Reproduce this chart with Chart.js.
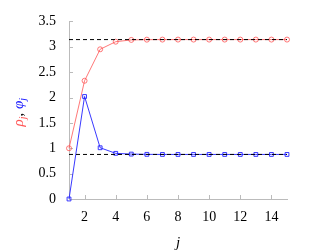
<!DOCTYPE html>
<html>
<head>
<meta charset="utf-8">
<script src="https://cdn.jsdelivr.net/npm/chart.js@4"></script>
<style>
  html, body { margin: 0; padding: 0; background: #fff; }
  #wrap { width: 315px; height: 252px; }
</style>
</head>
<body>
<div id="wrap"><canvas id="chart" width="315" height="252"></canvas></div>
<script>
// values
const jValues = [1, 2, 3, 4, 5, 6, 7, 8, 9, 10, 11, 12, 13, 14, 15];
const rhoValues = [1.0, 2.33, 2.95, 3.10, 3.135, 3.14, 3.1416, 3.1416, 3.1416, 3.1416, 3.1416, 3.1416, 3.1416, 3.1416, 3.1416];
const phiValues = [0.0, 2.02, 1.01, 0.90, 0.885, 0.88, 0.878, 0.878, 0.878, 0.878, 0.878, 0.878, 0.878, 0.878, 0.878];
const rhoLimit = 3.1416;
const phiLimit = 0.878;
const xTicks = [2, 4, 6, 8, 10, 12, 14];
const yTicks = [0, 0.5, 1, 1.5, 2, 2.5, 3, 3.5];

const FONT = "'Liberation Serif', 'DejaVu Serif', serif";
const RED = '#ff5555';
const BLUE = '#2222ff';

const pts = (vals) => jValues.map((j, i) => ({ x: j, y: vals[i] }));
const hline = (v) => [{ x: jValues[0], y: v }, { x: jValues[jValues.length - 1], y: v }];

// inward tick marks + two-colour y title
const decorations = {
    id: 'decorations',
    beforeDatasetsDraw(chart) {
        const { ctx, chartArea, scales } = chart;
        ctx.save();
        ctx.strokeStyle = '#bbbbbb';
        ctx.lineWidth = 1;
        ctx.beginPath();
        yTicks.forEach(v => {
            const y = Math.round(scales.y.getPixelForValue(v)) + 0.5;
            ctx.moveTo(chartArea.left, y);
            ctx.lineTo(chartArea.left + 4, y);
        });
        xTicks.forEach(v => {
            const x = Math.round(scales.x.getPixelForValue(v)) + 0.5;
            ctx.moveTo(x, chartArea.bottom);
            ctx.lineTo(x, chartArea.bottom - 4);
        });
        ctx.stroke();
        ctx.restore();
    },
    afterDraw(chart) {
        const { ctx, chartArea } = chart;
        ctx.save();
        // y axis title: rho_j (red), comma, phi_j (blue)
        ctx.translate(18, (chartArea.top + chartArea.bottom) / 2 + 2);
        ctx.rotate(-Math.PI / 2);
        ctx.textBaseline = 'alphabetic';
        const parts = [
            { t: 'ρ', c: RED, f: 'italic 15px ' + FONT, dy: 0 },
            { t: 'j', c: RED, f: 'italic 10px ' + FONT, dy: 3 },
            { t: ', ', c: '#000', f: '15px ' + FONT, dy: 0 },
            { t: 'φ', c: BLUE, f: 'italic 15px ' + FONT, dy: 0 },
            { t: 'j', c: BLUE, f: 'italic 10px ' + FONT, dy: 3 }
        ];
        let total = 0;
        parts.forEach(p => { ctx.font = p.f; total += ctx.measureText(p.t).width; });
        let x = -total / 2;
        parts.forEach(p => {
            ctx.font = p.f;
            ctx.fillStyle = p.c;
            ctx.fillText(p.t, x, 5 + p.dy);
            x += ctx.measureText(p.t).width;
        });
        ctx.restore();
    }
};

new Chart(document.getElementById('chart').getContext('2d'), {
    type: 'scatter',
    data: {
        datasets: [
            {
                label: 'rho limit',
                data: hline(rhoLimit),
                showLine: true,
                borderColor: '#000',
                borderWidth: 1,
                borderDash: [4, 3],
                pointRadius: 0,
                order: 0
            },
            {
                label: 'phi limit',
                data: hline(phiLimit),
                showLine: true,
                borderColor: '#000',
                borderWidth: 1,
                borderDash: [4, 3],
                pointRadius: 0,
                order: 0
            },
            {
                label: 'rho',
                data: pts(rhoValues),
                showLine: true,
                clip: false,
                borderColor: RED,
                borderWidth: 0.8,
                pointStyle: 'circle',
                pointRadius: 2.5,
                pointBorderWidth: 0.8,
                pointBackgroundColor: 'rgba(0,0,0,0)',
                pointBorderColor: RED,
                order: 1
            },
            {
                label: 'phi',
                data: pts(phiValues),
                showLine: true,
                clip: false,
                borderColor: BLUE,
                borderWidth: 0.9,
                pointStyle: 'rect',
                pointRadius: 2.7,
                pointBorderWidth: 0.9,
                pointBackgroundColor: 'rgba(0,0,0,0)',
                pointBorderColor: BLUE,
                order: 1
            }
        ]
    },
    options: {
        responsive: false,
        animation: false,
        layout: { padding: { top: 18, right: 28, left: 0, bottom: 0 } },
        plugins: {
            legend: { display: false },
            tooltip: { enabled: false }
        },
        scales: {
            x: {
                type: 'linear',
                min: 1,
                max: 15,
                afterBuildTicks: (scale) => { scale.ticks = xTicks.map(v => ({ value: v })); },
                afterFit: (scale) => { scale.height = 53; },
                grid: { display: false, drawTicks: false },
                border: { display: true, color: '#bbbbbb', width: 1 },
                ticks: {
                    color: '#000',
                    font: { family: FONT, size: 14 },
                    padding: 10,
                    maxRotation: 0,
                    autoSkip: false
                },
                title: {
                    display: true,
                    text: 'j',
                    color: '#000',
                    font: { family: FONT, size: 15, style: 'italic' },
                    padding: { top: 2, bottom: 0 }
                }
            },
            y: {
                type: 'linear',
                min: 0,
                max: 3.5,
                afterBuildTicks: (scale) => { scale.ticks = yTicks.map(v => ({ value: v })); },
                afterFit: (scale) => { scale.width = 69; },
                grid: { display: false, drawTicks: false },
                border: { display: true, color: '#bbbbbb', width: 1 },
                ticks: {
                    color: '#000',
                    font: { family: FONT, size: 14 },
                    padding: 13,
                    callback: (v) => String(v)
                }
            }
        }
    },
    plugins: [decorations]
});
</script>
</body>
</html>
